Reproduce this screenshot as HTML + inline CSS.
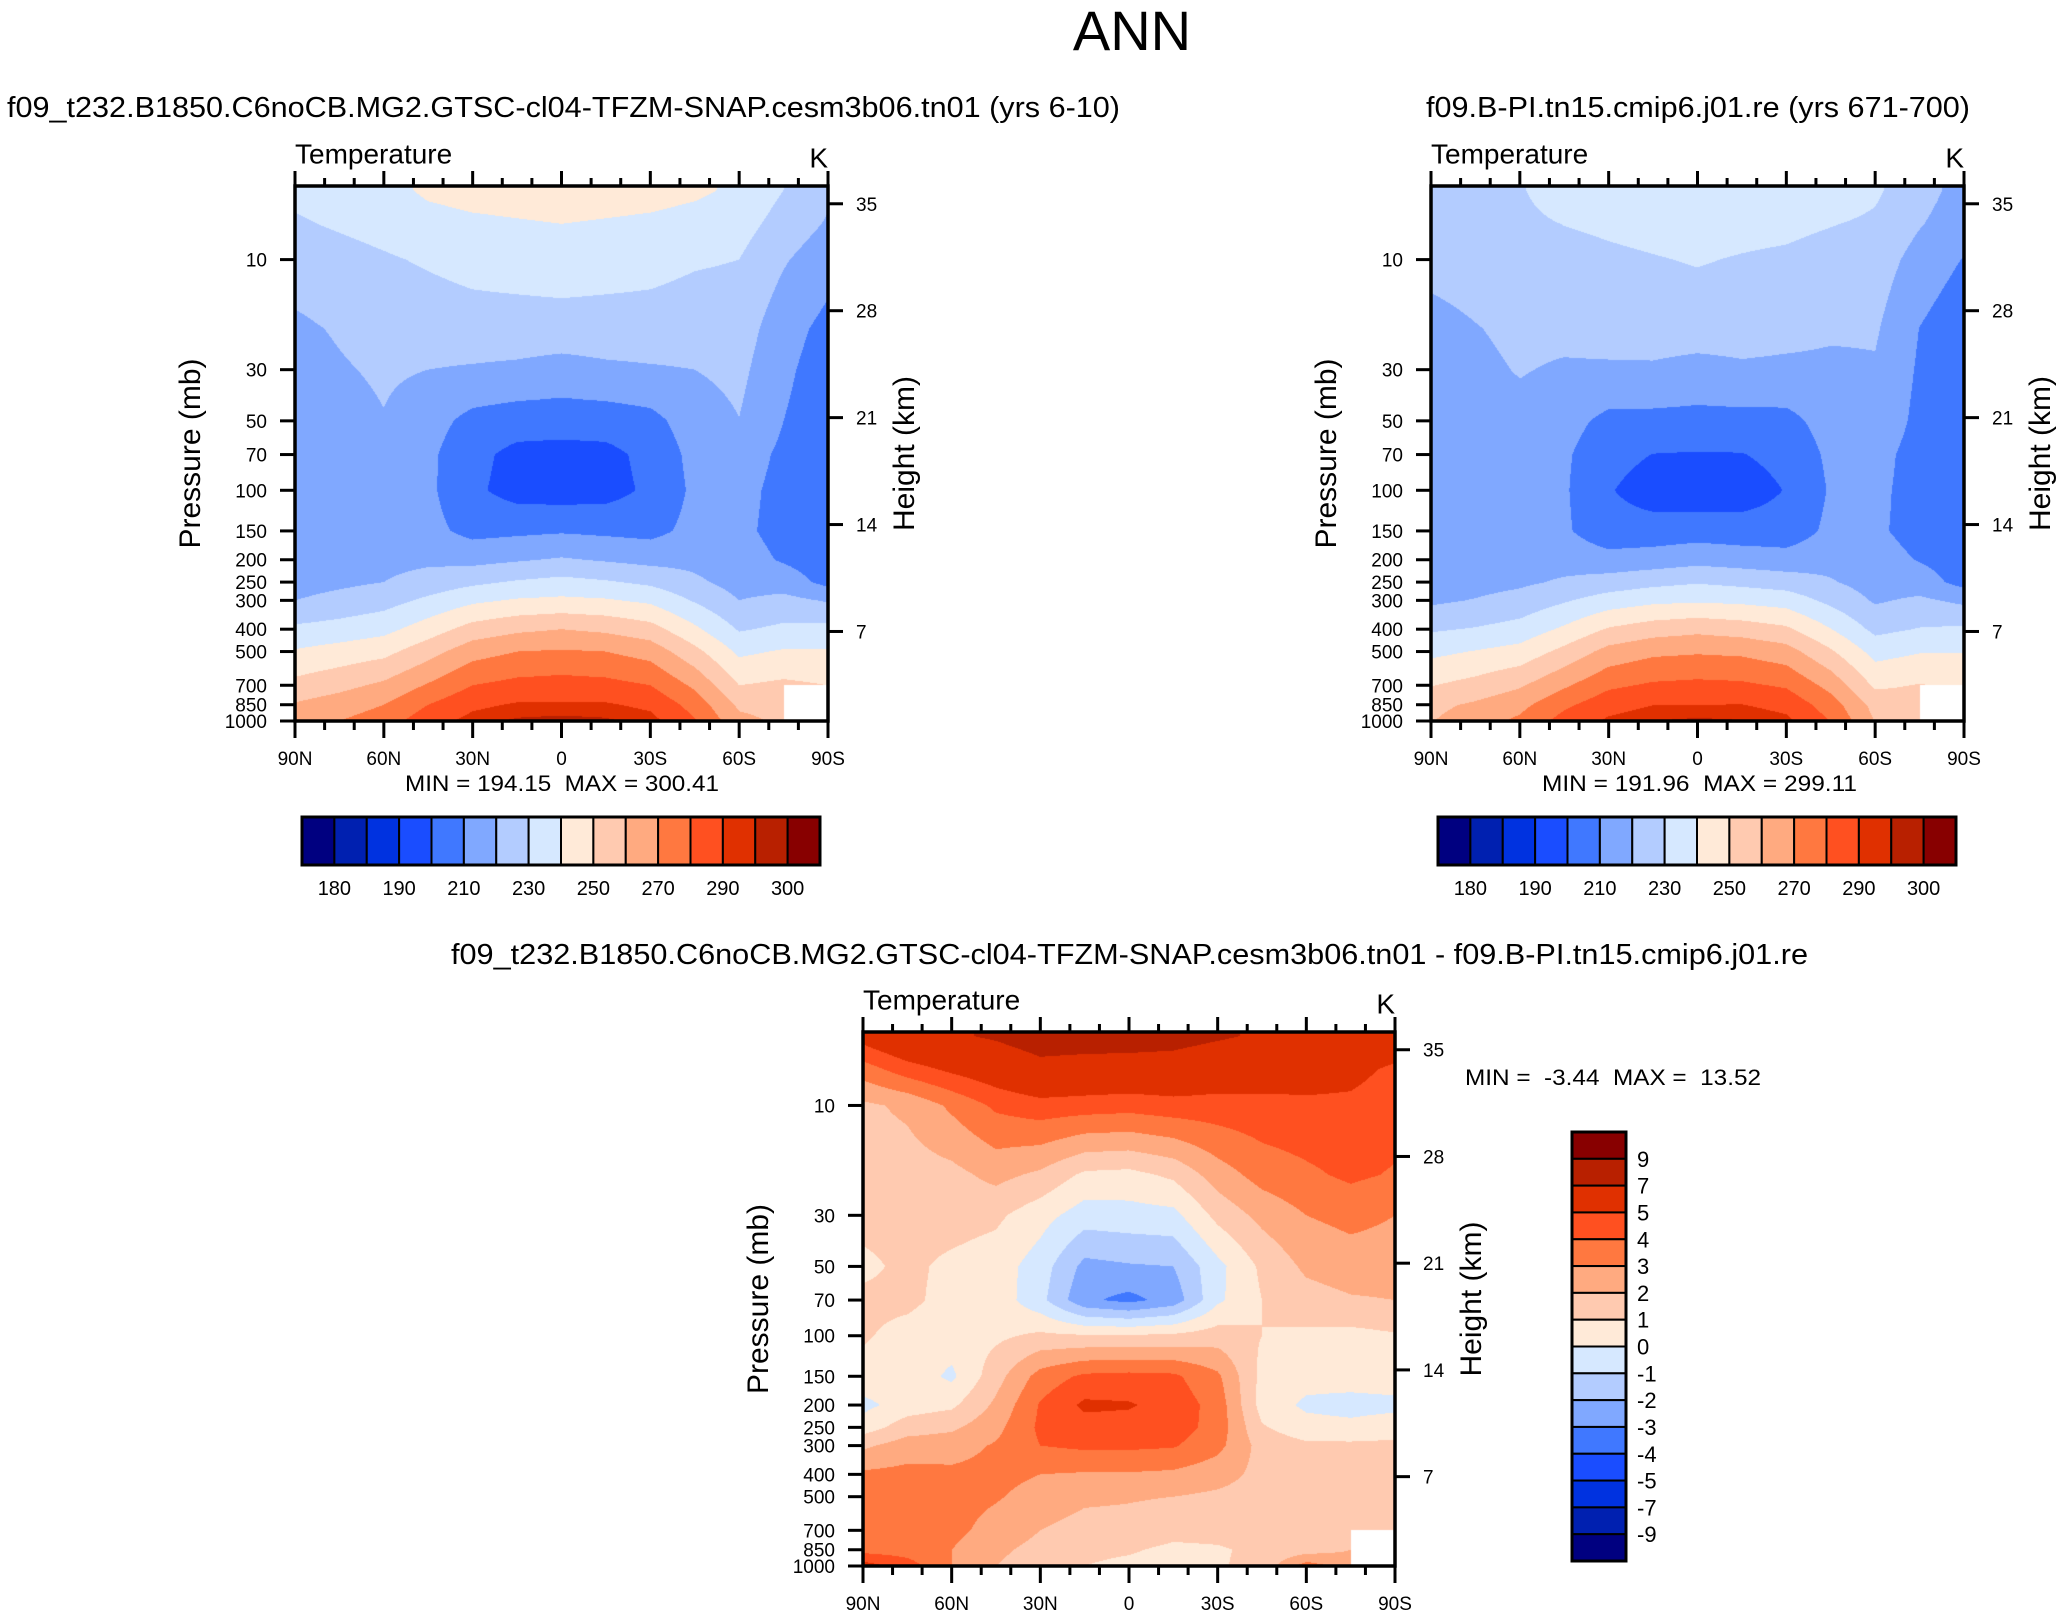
<!DOCTYPE html>
<html><head><meta charset="utf-8">
<style>
html,body{margin:0;padding:0;background:#fff;}
#root{position:relative;width:2063px;height:1616px;overflow:hidden;background:#fff;font-family:"Liberation Sans",sans-serif;}
canvas{position:absolute;}
svg{position:absolute;left:0;top:0;}
text{font-family:"Liberation Sans",sans-serif;fill:#000;}
.pre{white-space:pre;}
</style></head>
<body>
<div id="root">
<canvas id="c1" style="left:295px;top:186px" width="533" height="535"></canvas>
<canvas id="c2" style="left:1431px;top:186px" width="533" height="535"></canvas>
<canvas id="c3" style="left:863px;top:1032px" width="532" height="534"></canvas>
<svg id="ov" width="2063" height="1616"></svg>
</div>
<script>
// ---- data ----
const lats = [90,75,60,45,30,15,0,-15,-30,-45,-60,-75,-90];
const levels = [5,7,10,20,30,50,70,100,150,200,250,300,400,500,700,850,1000];
const latTicks = [90,60,30,0,-30,-60,-90];
const latTickLabels = ["90N","60N","30N","0","30S","60S","90S"];
const presTicks = [10,30,50,70,100,150,200,250,300,400,500,700,850,1000];
const heightTicks = [35,28,21,14,7];
const absBounds = [180,185,190,200,210,220,230,240,250,260,270,280,290,295,300];
const absLabels = ["180","190","210","230","250","270","290","300"];
const diffBounds = [-9,-7,-5,-4,-3,-2,-1,0,1,2,3,4,5,7,9];
const diffLabels = ["9","7","5","4","3","2","1","0","-1","-2","-3","-4","-5","-7","-9"];
const palette = ["#000080","#0020b0","#0032e0","#1a4dff","#4078ff","#80a8ff","#b3ccff","#d6e8ff","#ffead8","#ffcab0","#ffaa80","#ff7840","#ff5020","#e03000","#b82000","#880000"];

// control run temperature (K), columns by latitude, rows by pressure level
const ctlTemp = [
[232,229,225,218,216,215,215,215,215,215,216,220,232,241,253,261,265],
[234,231,227,221,219,216,215,215,215,216,218,223,234,244,257,265,270],
[236,233,229,224,221.5,219.5,216,215,215,217,220,226,237,247,262,270,275],
[242,236,231,225,220,214,212,212,213,218,224,232,245,256,271,280,286],
[244,238,233,226,219,207,203,202,207,217,228,238,254,266,280,288,293],
[245,239,234,226,218,205,197,196,208,219,231,241,258,270,283,291,296],
[246,240,235,226,216,205,196,195,209,221,233,242,260,271,284,291,297],
[245,239,234,226,218,205,197,196,208,219,231,241,258,270,283,291,296],
[244,238,233,226,219,207,203,202,207,217,228,238,254,266,280,288,293],
[242,236,231,225,220,215,213,212,213,217,222,229,242,253,268,276,281],
[238,234,230,225,222.5,219.8,215,213,212,214,216,220,229,238,250,258,263],
[230,226,221,214,212,210,208,207,207,209,215,223,232,241,252,256,258],
[222,219,214,207,205,204,204,204,204,205,207,219,233,241,250,null,null]
];
// reference run temperature (K)
const refTemp = [
[226.5,225.5,223.2,216.5,214.7,214.2,213.8,213.9,214.3,215.3,215.5,218.2,228.8,237.5,249.6,257.4,259.5],
[227.5,226.5,224.8,219.5,217.7,214.8,213.8,214.3,214.4,215.5,216.5,220.5,230.7,240.5,253.4,261.5,265.5],
[229.2,227.8,225.8,222.3,220.6,217.2,215.3,214.5,215.2,216.2,218.2,223.4,233.8,243.6,258.7,267,272],
[234.8,230.2,226.8,222.7,218.8,213.5,211.4,211.2,211.4,215.8,221.3,228.9,241.7,252.9,268.4,277.8,284],
[236.2,231.5,228.4,224.2,218.6,207.5,203.7,200.8,204,213.4,224.3,234.5,251,263.4,278,286.3,291.5],
[237.2,232.7,229.5,225.2,218.5,207.3,199.8,194.9,204.5,214.5,227.2,237.6,255.3,267.8,281.4,289.8,295],
[238.2,233.8,230.6,225.3,216.4,207.1,199.3,193.9,205.4,216.7,229.2,238.6,257.4,268.9,282.4,289.9,296.2],
[237.4,232.8,229.4,224.8,218.3,207,199.6,194.8,204.5,215.3,227.3,237.6,255.4,268,281.7,290.2,295.3],
[236.8,232.2,228.4,223.5,217.7,207.3,203.2,200.5,204.3,214,225.2,235.5,251.8,264.2,278.7,287.1,292.1],
[235.2,230.4,226.3,221.6,217.7,213.8,212,211,212.3,216.4,220.9,227.4,240.3,251.4,266.6,274.8,279.7],
[231.5,228.5,225.2,221.2,219,216.8,213.4,212.2,211.6,214.2,215.6,218.8,227.4,236.4,248.2,256.5,259.5],
[224,220.7,216.2,209.8,208.7,207.5,206.1,206.3,206.5,209.4,214.7,221.8,230.5,239.4,250.5,254,255.5],
[216.2,214.2,209.5,203.1,202,201.5,202,203.1,203.4,205.3,206.4,217.8,231.6,239.5,248.5,null,null]
];
// difference (K)
const diffTemp = [
[5.5,3.5,1.8,1.5,1.3,0.8,1.2,1.1,0.7,-0.3,0.5,1.8,3.2,3.5,3.4,3.6,5.5],
[6.5,4.5,2.2,1.5,1.3,1.2,1.2,0.7,0.6,0.5,1.5,2.5,3.3,3.5,3.6,3.5,4.5],
[6.8,5.2,3.2,1.7,1.4,0.8,0.7,0.5,-0.2,0.8,1.8,2.6,3.2,3.4,3.3,3.0,3.0],
[7.2,5.8,4.2,2.3,1.2,0.5,0.6,0.8,1.6,2.2,2.7,3.1,3.3,3.1,2.6,2.2,2.0],
[7.8,6.5,4.6,1.8,0.4,-0.5,-0.7,1.2,3.4,4.1,4.2,4.0,3.0,2.6,2.0,1.7,1.5],
[7.8,6.3,4.5,0.8,-0.5,-2.3,-2.8,1.1,4.2,5.2,4.6,4.2,2.9,2.2,1.6,1.2,1.0],
[7.8,6.2,4.4,0.7,-0.4,-2.1,-3.3,1.1,4.3,5.1,4.6,4.2,2.9,2.1,1.6,1.1,0.8],
[7.6,6.2,4.6,1.2,-0.3,-2.0,-2.6,1.2,4.2,4.6,4.5,4.1,2.8,2.0,1.3,0.8,0.7],
[7.2,5.8,4.6,2.5,1.3,-0.3,-0.2,1.5,3.2,3.6,3.6,3.3,2.4,1.8,1.3,0.9,0.9],
[6.8,5.6,4.7,3.4,2.3,1.2,1.0,1.0,0.7,0.6,1.1,1.6,1.7,1.6,1.4,1.2,1.3],
[6.5,5.5,4.8,3.8,3.0,2.2,1.6,0.8,0.4,-0.2,0.4,1.2,1.6,1.6,1.8,1.5,3.5],
[6.0,5.3,4.8,4.2,3.3,2.5,1.9,0.7,0.5,-0.4,0.3,1.2,1.5,1.6,1.5,2.0,2.5],
[5.8,4.8,4.5,3.9,3.0,2.5,2.0,0.9,0.6,-0.3,0.6,1.2,1.4,1.5,1.5,null,null]
];

// ---- geometry ----
const LOGTOP = 0.681, LOGBOT = 3;
const panels = [
  {x:295,y:186,w:533,h:535,canvas:'c1',grid:ctlTemp,bounds:absBounds,
   sub:"f09_t232.B1850.C6noCB.MG2.GTSC-cl04-TFZM-SNAP.cesm3b06.tn01 (yrs 6-10)",subX:7,subW:1113,subY:117,
   mm:"MIN = 194.15  MAX = 300.41",mmX:405,mmW:314,mmY:791,cbx:302},
  {x:1431,y:186,w:533,h:535,canvas:'c2',grid:refTemp,bounds:absBounds,
   sub:"f09.B-PI.tn15.cmip6.j01.re (yrs 671-700)",subX:1426,subW:544,subY:117,
   mm:"MIN = 191.96  MAX = 299.11",mmX:1542,mmW:315,mmY:791,cbx:1438},
  {x:863,y:1032,w:532,h:534,canvas:'c3',grid:diffTemp,bounds:diffBounds,
   sub:"f09_t232.B1850.C6noCB.MG2.GTSC-cl04-TFZM-SNAP.cesm3b06.tn01 - f09.B-PI.tn15.cmip6.j01.re",subX:451,subW:1357,subY:964,
   mm:"MIN =  -3.44  MAX =  13.52",mmX:1465,mmW:296,mmY:1085}
];
function xOf(P,lat){return P.x + (90-lat)/180*P.w;}
function yOf(P,p){return P.y + (Math.log10(p)-LOGTOP)/(LOGBOT-LOGTOP)*P.h;}
function yH(P,z){return P.y + (552.4-15.275*z)/535*P.h;}

function hexRGB(h){return [parseInt(h.substr(1,2),16),parseInt(h.substr(3,2),16),parseInt(h.substr(5,2),16)];}
const palRGB = palette.map(hexRGB);
const logL = levels.map(v=>Math.log10(v));

function drawField(P){
  const cv=document.getElementById(P.canvas), ctx=cv.getContext('2d');
  const W=cv.width,H=cv.height, img=ctx.createImageData(W,H), d=img.data;
  const nx=lats.length-1;
  for(let py=0;py<H;py++){
    let lp=LOGTOP+(py+0.5)/H*(LOGBOT-LOGTOP);
    let j=0,s=0;
    if(lp<=logL[0]){j=0;s=0;}
    else if(lp>=logL[logL.length-1]){j=logL.length-2;s=1;}
    else{while(j<logL.length-2&&lp>logL[j+1])j++; s=(lp-logL[j])/(logL[j+1]-logL[j]);}
    for(let px=0;px<W;px++){
      let f=(px+0.5)/W*nx, i=Math.min(nx-1,Math.floor(f)), t=f-i;
      const a=P.grid[i][j],b=P.grid[i+1][j],c=P.grid[i][j+1],e=P.grid[i+1][j+1];
      let k=(py*W+px)*4;
      if(a==null||b==null||c==null||e==null){d[k]=d[k+1]=d[k+2]=255;d[k+3]=255;continue;}
      const v=(a*(1-t)+b*t)*(1-s)+(c*(1-t)+e*t)*s;
      let ci=0; while(ci<P.bounds.length&&v>=P.bounds[ci])ci++;
      const col=palRGB[ci];
      d[k]=col[0];d[k+1]=col[1];d[k+2]=col[2];d[k+3]=255;
    }
  }
  ctx.putImageData(img,0,0);
}

const svg=document.getElementById('ov');
const NS='http://www.w3.org/2000/svg';
function mk(tag,attrs,parent){const e=document.createElementNS(NS,tag);for(const k in attrs)e.setAttribute(k,attrs[k]);(parent||svg).appendChild(e);return e;}
function txt(s,attrs,parent){const e=mk('text',attrs,parent);e.textContent=s;return e;}

const title=txt("ANN",{x:1132,y:50,'font-size':56,'text-anchor':'middle'});



panels.forEach((P,pi)=>{
  drawField(P);
  const g=mk('g',{});
  
  
  const st=txt(P.sub,{x:P.subX,y:P.subY,'font-size':29,textLength:P.subW,lengthAdjust:'spacingAndGlyphs'},g);
  
  
  const tt=txt("Temperature",{x:P.x,y:P.y-22.5,'font-size':28},g);
  
  
  const ku=txt("K",{x:P.x+P.w,y:P.y-18.5,'font-size':28,'text-anchor':'end'},g);
  
  
  const fr=mk('rect',{x:P.x,y:P.y,width:P.w,height:P.h,fill:'none',stroke:'#000','stroke-width':3.5},g);
  
  
  for(let lat=90;lat>=-90;lat-=10){
    const x=xOf(P,lat), major=(lat%30===0);
    mk('line',{x1:x,x2:x,y1:P.y,y2:P.y-(major?15:8),stroke:'#000','stroke-width':3},g);
    mk('line',{x1:x,x2:x,y1:P.y+P.h,y2:P.y+P.h+(major?17:9),stroke:'#000','stroke-width':3},g);
  }
  latTicks.forEach((lat,i)=>{
    const l=txt(latTickLabels[i],{x:xOf(P,lat),y:P.y+P.h+44,'font-size':19,'text-anchor':'middle'},g);
    
    
  });
  presTicks.forEach(p=>{
    const y=yOf(P,p);
    mk('line',{x1:P.x,x2:P.x-15,y1:y,y2:y,stroke:'#000','stroke-width':3},g);
    const l=txt(String(p),{x:P.x-28,y:y+7,'font-size':19,'text-anchor':'end'},g);
    
    
  });
  heightTicks.forEach(z=>{
    const y=yH(P,z);
    mk('line',{x1:P.x+P.w,x2:P.x+P.w+15,y1:y,y2:y,stroke:'#000','stroke-width':3},g);
    const l=txt(String(z),{x:P.x+P.w+28,y:y+7,'font-size':19},g);
    
    
  });
  const cy=P.y+P.h/2;
  const yt=txt("Pressure (mb)",{x:0,y:0,'font-size':30,'text-anchor':'middle',transform:`translate(${P.x-95},${cy}) rotate(-90)`},g);
  
  
  const ht=txt("Height (km)",{x:0,y:0,'font-size':30,'text-anchor':'middle',transform:`translate(${P.x+P.w+86},${cy}) rotate(-90)`},g);
  
  
  const mm=txt(P.mm,{x:P.mmX,y:P.mmY,'font-size':22,textLength:P.mmW,lengthAdjust:'spacingAndGlyphs','class':'pre'},g);
  
  

  const cb=mk('g',{},g);
  
  
  if(pi<2){
    const x0=P.cbx,y0=817,W=518,H=48,bw=W/palette.length;
    palette.forEach((c,i)=>{
      const r=mk('rect',{x:x0+i*bw,y:y0,width:bw,height:H,fill:c,stroke:'#000','stroke-width':2},cb);
      
      
    });
    mk('rect',{x:x0,y:y0,width:W,height:H,fill:'none',stroke:'#000','stroke-width':3},cb);
    absLabels.forEach((s,i)=>{
      const l=txt(s,{x:x0+(1+2*i)*bw,y:895,'font-size':20,'text-anchor':'middle'},cb);
      
      
    });
  } else {
    const x0=1572,y0=1132,W=54,H=429,bh=H/palette.length;
    palette.slice().reverse().forEach((c,i)=>{
      const r=mk('rect',{x:x0,y:y0+i*bh,width:W,height:bh,fill:c,stroke:'#000','stroke-width':2},cb);
      
      
    });
    mk('rect',{x:x0,y:y0,width:W,height:H,fill:'none',stroke:'#000','stroke-width':3},cb);
    diffLabels.forEach((s,i)=>{
      const l=txt(s,{x:1637,y:y0+(i+1)*bh+8,'font-size':22},cb);
      
      
    });
  }
});
</script>
</body></html>
